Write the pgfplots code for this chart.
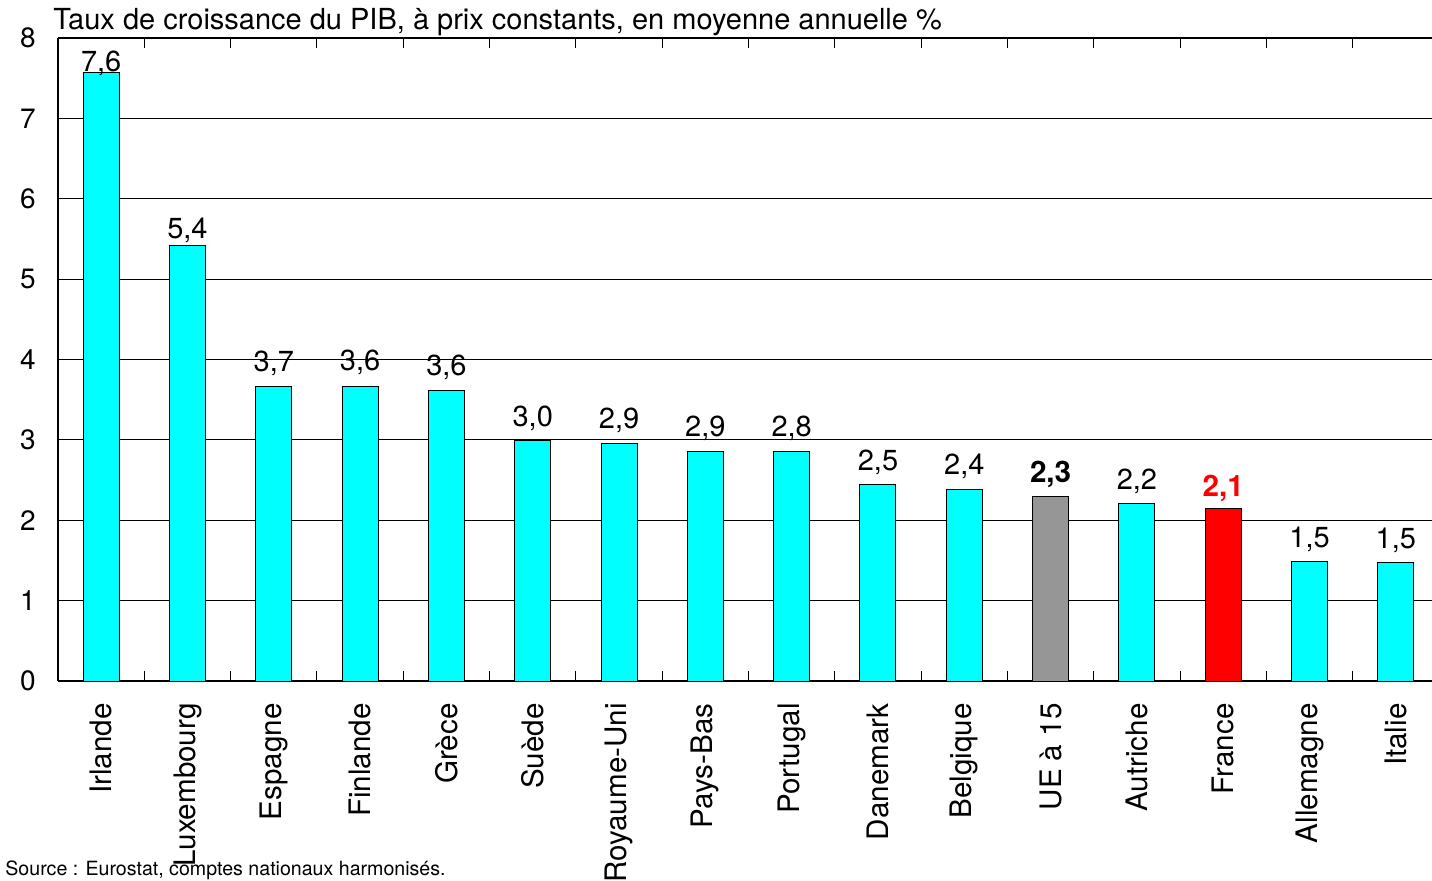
\documentclass[border=0pt]{standalone}
\usepackage{pgfplots}
\pgfplotsset{compat=1.18}
\usepackage{pgfplotstable}
\usepackage{fontspec}
\setmainfont{TeX Gyre Heros}

\definecolor{barcyan}{RGB}{0,255,255}
\definecolor{bargray}{RGB}{150,150,150}
\definecolor{barred}{RGB}{255,0,0}

% x y label label-offset(pt)
\pgfplotstableread{
x  y    lab  dy
0  7.57 7,6  0.5
1  5.42 5,4  3.5
2  3.67 3,7  7.5
3  3.66 3,6  8
4  3.62 3,6  7.5
5  2.99 3,0  7
6  2.96 2,9  7.5
7  2.86 2,9  7.5
8  2.85 2,8  7.5
9  2.45 2,5  7
10 2.38 2,4  7.5
12 2.21 2,2  7
14 1.49 1,5  7
15 1.47 1,5  7
}\paysdata
\pgfplotstableread{
x  y    lab  dy
11 2.30 2,3  7
}\uedata
\pgfplotstableread{
x  y    lab  dy
13 2.15 2,1  6
}\frdata

\begin{document}
\begin{tikzpicture}
\begin{axis}[
  at={(29pt,99.5pt)}, anchor=south west,
  scale only axis, width=690.5pt, height=321.5pt,
  xmin=-0.5, xmax=15.5, ymin=0, ymax=8,
  axis x line*=box, axis y line*=left,
  axis line style={line width=0.8pt},
  ymajorgrids, major grid style={black, line width=0.5pt},
  ytick={0,...,8},
  xtick={0,...,15},
  xticklabels={Irlande,Luxembourg,Espagne,Finlande,Grèce,Suède,Royaume-Uni,Pays-Bas,Portugal,Danemark,Belgique,UE à 15,Autriche,France,Allemagne,Italie},
  minor xtick={0.5,1.5,...,14.5},
  tick align=inside, major tick length=0pt, minor tick length=5pt,
  minor tick style={black, line width=0.5pt},
  xticklabel style={rotate=90, anchor=east, inner sep=0pt, font=\fontsize{14.8}{16}\selectfont},
  yticklabel style={anchor=east, inner sep=0pt, font=\fontsize{14}{16}\selectfont},
  xticklabel shift=11pt, yticklabel shift=11pt,
  /pgf/number format/assume math mode=true,
  clip=false,
  point meta=explicit symbolic,
  visualization depends on={\thisrow{dy} \as \dy},
  nodes near coords,
  nodes near coords style={anchor=base, inner sep=0pt, yshift=\dy pt, font=\fontsize{14.5}{16}\selectfont},
]
\addplot[ybar, bar shift=0pt, bar width=18pt, fill=barcyan, draw=black, line width=0.5pt]
  table[x=x, y=y, meta=lab] {\paysdata};
\addplot[ybar, bar shift=0pt, bar width=18pt, fill=bargray, draw=black, line width=0.5pt,
  nodes near coords style={font=\fontsize{14.8}{16}\selectfont\bfseries}]
  table[x=x, y=y, meta=lab] {\uedata};
\addplot[ybar, bar shift=0pt, bar width=18pt, fill=barred, draw=black, line width=0.5pt,
  nodes near coords style={font=\fontsize{14.8}{16}\selectfont\bfseries, text=barred}]
  table[x=x, y=y, meta=lab] {\frdata};
\end{axis}
\node[anchor=base west, inner sep=0pt, font=\fontsize{9.8}{11}\selectfont] at (2.5pt,425pt)
  {};
\node[anchor=base west, inner sep=0pt, font=\fontsize{14.5}{16}\selectfont] at (26.5pt,425pt)
  {Taux de croissance du PIB, à prix constants, en moyenne annuelle \%};
\node[anchor=base west, inner sep=0pt, font=\fontsize{9.8}{11}\selectfont] at (2.5pt,2.4pt)
  {Source : Eurostat, comptes nationaux harmonisés.};
\pgfresetboundingbox
\path[use as bounding box] (0pt,0pt) rectangle (716pt,440pt);
\end{tikzpicture}
\end{document}
